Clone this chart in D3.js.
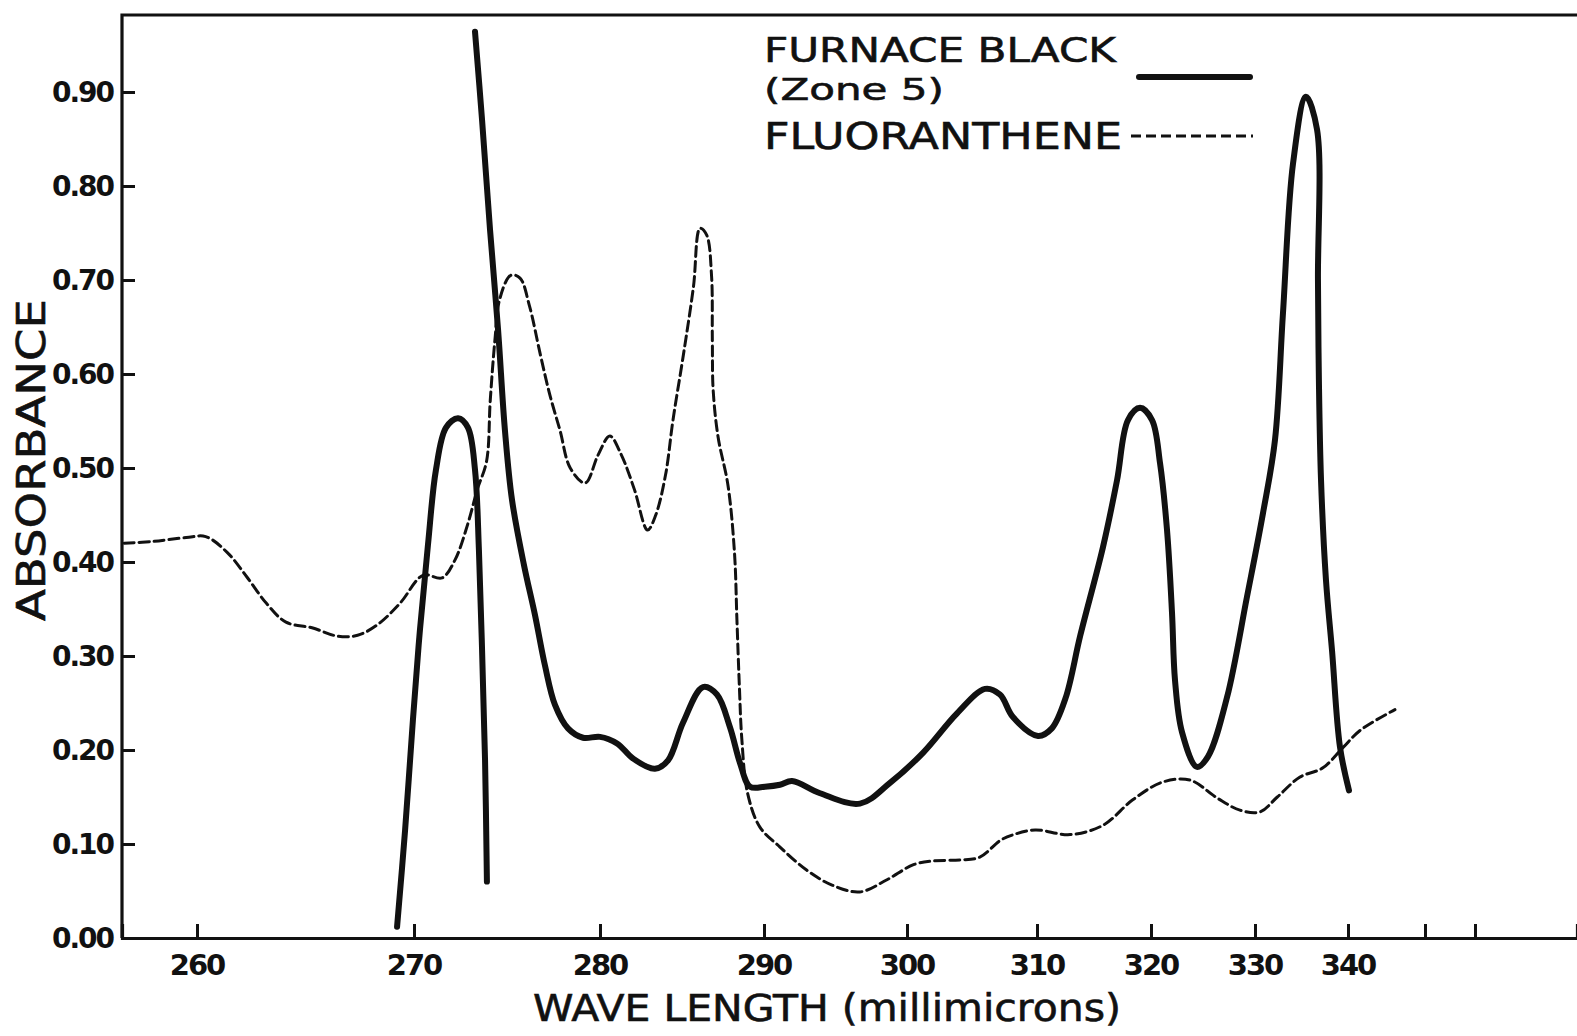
<!DOCTYPE html>
<html>
<head>
<meta charset="utf-8">
<script src="https://cdn.jsdelivr.net/npm/d3@7"></script>
<style>
  html, body { margin: 0; padding: 0; background: #fff; }
  svg { display: block; }
  text { fill: #111; font-family: "DejaVu Sans", sans-serif; }
</style>
</head>
<body>
<svg id="chart" width="1577" height="1036"></svg>
<script>
// Absorption spectra: furnace black (zone 5) vs. fluoranthene

// Furnace black, short-wavelength band (drawn as its own stroke)
const furnaceBandNm  = [269.22, 269.59, 269.95, 270.32, 270.75, 271.18, 271.72, 272.37, 272.90, 273.28, 273.49, 273.66, 273.82, 273.92];
const furnaceBandAbs = [0.012, 0.115, 0.232, 0.328, 0.418, 0.498, 0.543, 0.553, 0.543, 0.498, 0.413, 0.306, 0.189, 0.060];

// Furnace black, main trace
const furnaceNm  = [273.28, 273.66, 274.09, 274.52, 274.89, 275.27, 275.91, 276.50, 277.04, 277.58, 278.28, 279.09, 280.00,
                    281.04, 282.01, 283.35, 284.15, 285.06, 286.28, 287.13, 287.93, 288.54, 289.15, 290.07, 291.12, 291.96,
                    293.92, 296.71, 298.81, 301.23, 303.85, 306.00, 307.15, 308.15, 310.09, 311.30, 312.50, 313.80, 315.79,
                    317.02, 317.98, 319.04, 320.10, 320.87, 321.54, 322.02, 322.31, 322.98, 324.42, 325.48, 327.31, 329.23,
                    330.86, 332.15, 333.01, 334.09, 335.48, 336.67, 336.77, 336.87, 337.10, 337.63, 338.28, 339.14, 340.13];
const furnaceAbs = [0.964, 0.870, 0.753, 0.647, 0.540, 0.466, 0.397, 0.344, 0.290, 0.248, 0.223, 0.213, 0.214,
                    0.207, 0.191, 0.180, 0.189, 0.229, 0.267, 0.259, 0.224, 0.186, 0.161, 0.161, 0.163, 0.167,
                    0.154, 0.143, 0.165, 0.197, 0.239, 0.265, 0.259, 0.235, 0.215, 0.223, 0.255, 0.322, 0.416,
                    0.487, 0.551, 0.564, 0.551, 0.505, 0.434, 0.346, 0.274, 0.219, 0.182, 0.193, 0.256, 0.363,
                    0.452, 0.530, 0.665, 0.824, 0.895, 0.860, 0.700, 0.594, 0.487, 0.381, 0.306, 0.203, 0.157];

// Fluoranthene
const fluorNm  = [256.6, 258.0, 259.5, 260.4, 261.4, 262.3, 263.2, 264.1, 265.3, 266.5, 267.4, 268.3, 269.35, 270.5,
                  271.5, 272.2, 272.9, 273.4, 273.9, 274.1, 274.35, 274.6, 275.2, 275.7, 276.2, 276.8, 277.3, 277.85,
                  278.4, 279.2, 279.9, 280.6, 281.3, 282.1, 282.9, 283.4, 284.0, 284.45, 285.1, 285.7, 286.1, 286.5,
                  286.8, 286.85, 286.9, 287.2, 287.8, 288.2, 288.35, 288.5, 288.65, 289.0, 289.75, 291.1, 293.0, 294.8,
                  296.7, 298.6, 300.5, 302.0, 304.1, 305.6, 307.2, 308.2, 309.85, 312.9, 315.8, 318.4, 321.15, 323.75,
                  326.35, 328.55, 330.5, 332.4, 334.8, 337.3, 339.5, 341.6, 346.1];
const fluorAbs = [0.420, 0.422, 0.426, 0.427, 0.410, 0.384, 0.356, 0.336, 0.330, 0.321, 0.322, 0.333, 0.356, 0.386,
                  0.383, 0.402, 0.441, 0.477, 0.507, 0.572, 0.636, 0.679, 0.705, 0.702, 0.673, 0.620, 0.578, 0.540,
                  0.500, 0.484, 0.514, 0.534, 0.514, 0.477, 0.434, 0.450, 0.493, 0.551, 0.622, 0.693, 0.755, 0.748,
                  0.705, 0.636, 0.583, 0.533, 0.482, 0.410, 0.338, 0.267, 0.211, 0.154, 0.118, 0.097, 0.072, 0.056,
                  0.049, 0.062, 0.078, 0.082, 0.083, 0.086, 0.104, 0.110, 0.115, 0.110, 0.120, 0.147, 0.166, 0.168,
                  0.149, 0.136, 0.134, 0.150, 0.171, 0.181, 0.203, 0.221, 0.243];

// Axis ticks
const xTickValues = [260, 270, 280, 290, 300, 310, 320, 330, 340];
const xTickLabels = ["260", "270", "280", "290", "300", "310", "320", "330", "340"];
const xBlankTicks = [350, 356];
const yTickValues = [0, 0.1, 0.2, 0.3, 0.4, 0.5, 0.6, 0.7, 0.8, 0.9];
const yTickLabels = ["0.00", "0.10", "0.20", "0.30", "0.40", "0.50", "0.60", "0.70", "0.80", "0.90"];

const legendLabels = ["FURNACE BLACK", "(Zone 5)", "FLUORANTHENE"];

const svg = d3.select("#chart");
const ink = "#111";

// The wavelength axis of this recording paper is not uniform, so the scale is piecewise linear.
const x = d3.scaleLinear()
  .domain([256.5, 260, 270, 280, 290, 300, 310, 320, 330, 340, 350, 356, 369])
  .range([122, 197, 414, 600, 764, 907, 1037, 1151, 1255, 1348, 1425, 1475, 1577]);
const y = d3.scaleLinear().domain([0, 0.9]).range([938, 92]);

const frameTop = 15;

// Frame: left axis + top edge
svg.append("path")
  .attr("d", `M${x(369)},${frameTop} L${x(256.5)},${frameTop} L${x(256.5)},${y(0)}`)
  .attr("fill", "none").attr("stroke", ink).attr("stroke-width", 3.2);

// Bottom axis with upward ticks
const xAxis = d3.axisTop(x)
  .tickValues(xTickValues.concat(xBlankTicks))
  .tickSize(14)
  .tickFormat("");
const gx = svg.append("g").attr("transform", `translate(0,${y(0)})`).call(xAxis);
gx.select(".domain").attr("stroke", ink).attr("stroke-width", 3.2);
gx.selectAll(".tick line").attr("stroke", ink).attr("stroke-width", 3);

svg.append("g").selectAll("text")
  .data(xTickValues)
  .join("text")
  .attr("x", d => x(d))
  .attr("y", 975)
  .attr("text-anchor", "middle")
  .attr("font-size", 29)
  .attr("font-weight", "bold")
  .attr("letter-spacing", -2)
  .text((d, i) => xTickLabels[i]);

// Left axis ticks pointing inward
const yAxis = d3.axisRight(y).tickValues(yTickValues).tickSize(13).tickFormat("");
const gy = svg.append("g").attr("transform", `translate(${x(256.5)},0)`).call(yAxis);
gy.select(".domain").remove();
gy.selectAll(".tick line").attr("stroke", ink).attr("stroke-width", 3);

svg.append("g").selectAll("text")
  .data(yTickValues)
  .join("text")
  .attr("x", 113)
  .attr("y", d => y(d) + 10)
  .attr("text-anchor", "end")
  .attr("font-size", 28)
  .attr("font-weight", "bold")
  .attr("letter-spacing", -2)
  .text((d, i) => yTickLabels[i]);

// Axis titles
svg.append("text")
  .attr("x", 827).attr("y", 1021)
  .attr("text-anchor", "middle")
  .attr("font-size", 37)
  .attr("textLength", 588).attr("lengthAdjust", "spacingAndGlyphs")
  .attr("stroke", ink).attr("stroke-width", 0.6)
  .text("WAVE LENGTH (millimicrons)");

svg.append("text")
  .attr("transform", "translate(45,460) rotate(-90)")
  .attr("text-anchor", "middle")
  .attr("font-size", 39)
  .attr("textLength", 322).attr("lengthAdjust", "spacingAndGlyphs")
  .attr("stroke", ink).attr("stroke-width", 0.6)
  .text("ABSORBANCE");

// Curves
const line = d3.line()
  .x(d => x(d[0]))
  .y(d => y(d[1]))
  .curve(d3.curveCatmullRom.alpha(0.5));

const zip = (a, b) => a.map((v, i) => [v, b[i]]);

svg.append("path")
  .attr("d", line(zip(fluorNm, fluorAbs)))
  .attr("fill", "none").attr("stroke", ink)
  .attr("stroke-width", 3).attr("stroke-dasharray", "10,5")
  .attr("stroke-linecap", "round");

svg.append("path")
  .attr("d", line(zip(furnaceBandNm, furnaceBandAbs)))
  .attr("fill", "none").attr("stroke", ink)
  .attr("stroke-width", 6).attr("stroke-linecap", "round").attr("stroke-linejoin", "round");

svg.append("path")
  .attr("d", line(zip(furnaceNm, furnaceAbs)))
  .attr("fill", "none").attr("stroke", ink)
  .attr("stroke-width", 6).attr("stroke-linecap", "round").attr("stroke-linejoin", "round");

// Legend
const legend = svg.append("g");
legend.append("text").attr("x", 764).attr("y", 62).attr("font-size", 34)
  .attr("textLength", 352).attr("lengthAdjust", "spacingAndGlyphs")
  .attr("stroke", ink).attr("stroke-width", 0.6).text(legendLabels[0]);
legend.append("text").attr("x", 764).attr("y", 100).attr("font-size", 31)
  .attr("textLength", 180).attr("lengthAdjust", "spacingAndGlyphs")
  .attr("stroke", ink).attr("stroke-width", 0.6).text(legendLabels[1]);
legend.append("text").attr("x", 764).attr("y", 149).attr("font-size", 37)
  .attr("textLength", 358).attr("lengthAdjust", "spacingAndGlyphs")
  .attr("stroke", ink).attr("stroke-width", 0.6).text(legendLabels[2]);

legend.append("line").attr("x1", 1139).attr("x2", 1250).attr("y1", 77).attr("y2", 77)
  .attr("stroke", ink).attr("stroke-width", 6).attr("stroke-linecap", "round");
legend.append("line").attr("x1", 1131).attr("x2", 1253).attr("y1", 136).attr("y2", 136)
  .attr("stroke", ink).attr("stroke-width", 3).attr("stroke-dasharray", "10,5");
</script>
</body>
</html>
